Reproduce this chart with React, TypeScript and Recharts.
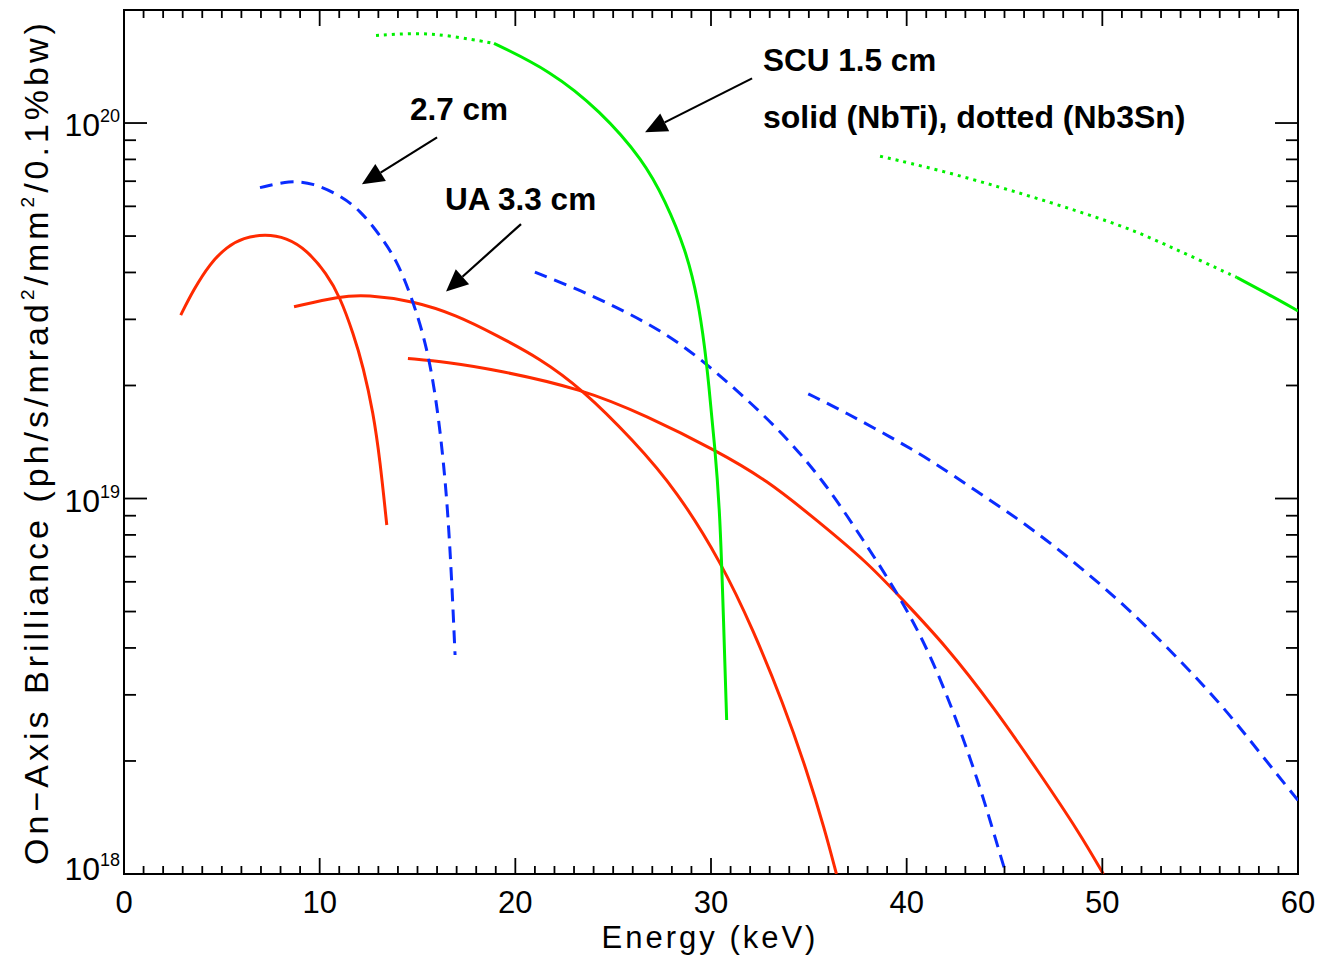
import { LineChart, Line, XAxis, YAxis, ReferenceArea, ReferenceLine } from "recharts";

const W = 1318;
const H = 956;
const PLOT = { left: 124, top: 10, right: 1298, bottom: 874 };
const FONT = "'Liberation Sans', Arial, sans-serif";

const RED = "#ff2a00";
const BLUE = "#0a2cff";
const GREEN = "#00f000";

// x ticks every 1 keV, labels every 10
const xTicks = [
  0, 1, 2, 3, 4, 5, 6, 7, 8, 9, 10, 11, 12, 13, 14, 15, 16, 17, 18, 19, 20,
  21, 22, 23, 24, 25, 26, 27, 28, 29, 30, 31, 32, 33, 34, 35, 36, 37, 38, 39, 40,
  41, 42, 43, 44, 45, 46, 47, 48, 49, 50, 51, 52, 53, 54, 55, 56, 57, 58, 59, 60,
];
const xLabels = [0, 10, 20, 30, 40, 50, 60];
const yTicks = [
  1e18, 2e18, 3e18, 4e18, 5e18, 6e18, 7e18, 8e18, 9e18,
  1e19, 2e19, 3e19, 4e19, 5e19, 6e19, 7e19, 8e19, 9e19,
  1e20,
];
const yLabels = [1e18, 1e19, 1e20];

// UA 3.3 cm (red, solid)
const ua1 = [
  { e: 2.9, b: 3.08e19 }, { e: 3.54, b: 3.59e19 }, { e: 4.4, b: 4.23e19 }, { e: 5.25, b: 4.68e19 },
  { e: 6.1, b: 4.95e19 }, { e: 7.21, b: 5.06e19 }, { e: 8.31, b: 4.95e19 }, { e: 9.34, b: 4.59e19 },
  { e: 10.36, b: 3.97e19 }, { e: 11.04, b: 3.44e19 }, { e: 11.72, b: 2.75e19 }, { e: 12.23, b: 2.24e19 },
  { e: 12.74, b: 1.69e19 }, { e: 13.08, b: 1.27e19 }, { e: 13.43, b: 8.5e18 },
];
const ua3 = [
  { e: 8.69, b: 3.24e19 }, { e: 11.04, b: 3.46e19 }, { e: 12.4, b: 3.49e19 }, { e: 14.79, b: 3.36e19 },
  { e: 17.0, b: 3.08e19 }, { e: 19.05, b: 2.72e19 }, { e: 21.26, b: 2.36e19 }, { e: 23.39, b: 1.96e19 },
  { e: 26.03, b: 1.43e19 }, { e: 28.25, b: 1.05e19 }, { e: 30.55, b: 6.72e18 }, { e: 32.16, b: 4.46e18 },
  { e: 33.69, b: 2.85e18 }, { e: 34.89, b: 1.89e18 }, { e: 35.82, b: 1.31e18 }, { e: 36.41, b: 1.0e18 },
];
const ua5 = [
  { e: 14.51, b: 2.36e19 }, { e: 16.49, b: 2.31e19 }, { e: 19.05, b: 2.2e19 }, { e: 23.39, b: 1.96e19 },
  { e: 26.71, b: 1.66e19 }, { e: 30.29, b: 1.34e19 }, { e: 32.85, b: 1.12e19 }, { e: 35.4, b: 8.76e18 },
  { e: 37.96, b: 6.78e18 }, { e: 39.66, b: 5.47e18 }, { e: 42.05, b: 4.03e18 }, { e: 44.43, b: 2.79e18 },
  { e: 46.81, b: 1.85e18 }, { e: 48.86, b: 1.28e18 }, { e: 50.05, b: 1.0e18 },
];

// 2.7 cm (blue, dashed)
const cm27a = [
  { e: 6.95, b: 6.73e19 }, { e: 8.48, b: 7.03e19 }, { e: 9.67, b: 6.92e19 }, { e: 11.04, b: 6.42e19 },
  { e: 12.06, b: 5.86e19 }, { e: 13.08, b: 5.03e19 }, { e: 13.94, b: 4.31e19 }, { e: 14.62, b: 3.52e19 },
  { e: 15.3, b: 2.75e19 }, { e: 15.77, b: 2.11e19 }, { e: 16.1, b: 1.6e19 }, { e: 16.34, b: 1.23e19 },
  { e: 16.55, b: 9.2e18 }, { e: 16.75, b: 6.06e18 }, { e: 16.92, b: 3.83e18 },
];
const cm27b = [
  { e: 21.0, b: 4.01e19 }, { e: 23.3, b: 3.59e19 }, { e: 25.86, b: 3.11e19 }, { e: 28.42, b: 2.61e19 },
  { e: 30.97, b: 2.02e19 }, { e: 33.53, b: 1.52e19 }, { e: 35.74, b: 1.12e19 }, { e: 37.78, b: 7.75e18 },
  { e: 39.66, b: 5.47e18 }, { e: 41.19, b: 3.87e18 }, { e: 42.56, b: 2.57e18 }, { e: 43.75, b: 1.71e18 },
  { e: 44.6, b: 1.21e18 }, { e: 45.08, b: 1.0e18 },
];
const cm27c = [
  { e: 34.97, b: 1.9e19 }, { e: 36.93, b: 1.69e19 }, { e: 39.15, b: 1.46e19 }, { e: 41.19, b: 1.27e19 },
  { e: 43.75, b: 1.03e19 }, { e: 46.3, b: 8.41e18 }, { e: 48.86, b: 6.58e18 }, { e: 51.41, b: 5.05e18 },
  { e: 53.97, b: 3.71e18 }, { e: 56.18, b: 2.79e18 }, { e: 58.06, b: 2.1e18 }, { e: 60.0, b: 1.57e18 },
];

// SCU 1.5 cm (green): solid NbTi, dotted Nb3Sn
const scu1Nb3Sn = [
  { e: 12.88, b: 1.71e20 }, { e: 14.96, b: 1.74e20 }, { e: 16.66, b: 1.71e20 }, { e: 18.91, b: 1.63e20 },
];
const scu1NbTi = [
  { e: 18.91, b: 1.63e20 }, { e: 21.77, b: 1.38e20 }, { e: 24.33, b: 1.08e20 }, { e: 26.54, b: 7.96e19 },
  { e: 27.65, b: 6.23e19 }, { e: 28.72, b: 4.59e19 }, { e: 29.34, b: 3.38e19 }, { e: 29.7, b: 2.48e19 },
  { e: 29.86, b: 2.07e19 }, { e: 30.2, b: 1.37e19 }, { e: 30.46, b: 9.14e18 }, { e: 30.63, b: 4.95e18 },
  { e: 30.8, b: 2.57e18 },
];
const scu3Nb3Sn = [
  { e: 38.64, b: 8.16e19 }, { e: 41.7, b: 7.49e19 }, { e: 44.77, b: 6.75e19 }, { e: 47.33, b: 6.15e19 },
  { e: 49.88, b: 5.57e19 }, { e: 51.58, b: 5.18e19 }, { e: 53.29, b: 4.73e19 }, { e: 54.99, b: 4.31e19 },
  { e: 56.87, b: 3.88e19 },
];
const scu3NbTi = [
  { e: 56.87, b: 3.88e19 }, { e: 58.57, b: 3.48e19 }, { e: 60.0, b: 3.16e19 },
];

// annotation arrows: start -> tip, in data units
const arrows = [
  [{ x: 32.1, y: 1.315e20 }, { x: 26.63, y: 9.45e19 }],
  [{ x: 16.0, y: 9.16e19 }, { x: 12.16, y: 6.87e19 }],
  [{ x: 20.29, y: 5.38e19 }, { x: 16.46, y: 3.56e19 }],
];

const XTick = (props: any) => {
  const { x, payload } = props;
  const v = payload.value;
  const major = xLabels.includes(v);
  const len = major ? 16 : 8;
  return (
    <g>
      <line x1={x} x2={x} y1={PLOT.bottom} y2={PLOT.bottom - len} stroke="#000" strokeWidth={1.8} />
      <line x1={x} x2={x} y1={PLOT.top} y2={PLOT.top + len} stroke="#000" strokeWidth={1.8} />
      {major && (
        <text x={x} y={PLOT.bottom + 39} textAnchor="middle" fontSize={31} fontFamily={FONT} fill="#000">
          {v}
        </text>
      )}
    </g>
  );
};

const YTick = (props: any) => {
  const { y, payload } = props;
  const v = payload.value;
  const major = yLabels.includes(v);
  const exp = Math.round(Math.log10(v));
  const len = major ? 23 : 12;
  return (
    <g>
      <line x1={PLOT.left} x2={PLOT.left + len} y1={y} y2={y} stroke="#000" strokeWidth={1.8} />
      <line x1={PLOT.right} x2={PLOT.right - len} y1={y} y2={y} stroke="#000" strokeWidth={1.8} />
      {major && (
        <text x={PLOT.left - 4} y={y + (exp === 18 ? 6 : 13)} textAnchor="end" fontSize={32} fontFamily={FONT} fill="#000">
          10
          <tspan dy={-14} fontSize={18}>{exp}</tspan>
        </text>
      )}
    </g>
  );
};

const Arrow = (p: any) => {
  const { x1, y1, x2, y2 } = p;
  const ang = Math.atan2(y2 - y1, x2 - x1);
  const L = 22;
  const hw = 10;
  const bx = x2 - L * Math.cos(ang);
  const by = y2 - L * Math.sin(ang);
  const nx = -Math.sin(ang) * hw;
  const ny = Math.cos(ang) * hw;
  return (
    <g>
      <line x1={x1} y1={y1} x2={bx} y2={by} stroke="#000" strokeWidth={2.2} />
      <polygon points={`${x2},${y2} ${bx + nx},${by + ny} ${bx - nx},${by - ny}`} fill="#000" />
    </g>
  );
};

const bold = { fontFamily: FONT, fontWeight: 700, fontSize: 31.5, fill: "#000" };

export default function App() {
  return (
    <div style={{ position: "absolute", left: 0, top: 0, width: W, height: H, background: "#fff" }}>
      <LineChart width={W} height={H} margin={{ top: PLOT.top, right: W - PLOT.right, left: 0, bottom: 0 }}>
        <XAxis
          type="number"
          dataKey="e"
          domain={[0, 60]}
          ticks={xTicks}
          interval={0}
          tick={(p: any) => <XTick {...p} />}
          tickLine={false}
          axisLine={false}
          height={H - PLOT.bottom}
          allowDataOverflow
        />
        <YAxis
          type="number"
          scale="log"
          domain={[1e18, 2e20]}
          ticks={yTicks}
          interval={0}
          tick={(p: any) => <YTick {...p} />}
          tickLine={false}
          axisLine={false}
          width={PLOT.left}
          allowDataOverflow
        />
        <Line data={ua1} dataKey="b" type="basis" stroke={RED} strokeWidth={3} dot={false} isAnimationActive={false} />
        <Line data={ua3} dataKey="b" type="basis" stroke={RED} strokeWidth={3} dot={false} isAnimationActive={false} />
        <Line data={ua5} dataKey="b" type="basis" stroke={RED} strokeWidth={3} dot={false} isAnimationActive={false} />
        <Line data={cm27a} dataKey="b" type="basis" stroke={BLUE} strokeWidth={3} strokeDasharray="13 8" dot={false} isAnimationActive={false} />
        <Line data={cm27b} dataKey="b" type="basis" stroke={BLUE} strokeWidth={3} strokeDasharray="13 8" dot={false} isAnimationActive={false} />
        <Line data={cm27c} dataKey="b" type="basis" stroke={BLUE} strokeWidth={3} strokeDasharray="13 8" dot={false} isAnimationActive={false} />
        <Line data={scu1Nb3Sn} dataKey="b" type="basis" stroke={GREEN} strokeWidth={3} strokeDasharray="3 5" dot={false} isAnimationActive={false} />
        <Line data={scu1NbTi} dataKey="b" type="basis" stroke={GREEN} strokeWidth={3} dot={false} isAnimationActive={false} />
        <Line data={scu3Nb3Sn} dataKey="b" type="basis" stroke={GREEN} strokeWidth={3} strokeDasharray="3 5" dot={false} isAnimationActive={false} />
        <Line data={scu3NbTi} dataKey="b" type="basis" stroke={GREEN} strokeWidth={3} dot={false} isAnimationActive={false} />
        {arrows.map((seg, i) => (
          <ReferenceLine key={i} segment={seg} shape={(p: any) => <Arrow {...p} />} ifOverflow="visible" />
        ))}
        <ReferenceArea x1={0} x2={60} y1={1e18} y2={2e20} fill="none" stroke="#000" strokeWidth={2} ifOverflow="visible" />
      </LineChart>
      <svg width={W} height={H} style={{ position: "absolute", left: 0, top: 0, pointerEvents: "none" }}>
        <text x={710} y={948} textAnchor="middle" fontSize={31} letterSpacing={3} fontFamily={FONT} fill="#000">
          Energy (keV)
        </text>
        <text
          transform="translate(48,442) rotate(-90)"
          textAnchor="middle"
          fontSize={34}
          letterSpacing={4}
          fontFamily={FONT}
          fill="#000"
        >
          On−Axis Brilliance (ph/s/mrad
          <tspan dy={-14} fontSize={19}>2</tspan>
          <tspan dy={14}>/mm</tspan>
          <tspan dy={-14} fontSize={19}>2</tspan>
          <tspan dy={14}>/0.1%bw)</tspan>
        </text>
        <text x={763} y={71} {...bold}>SCU 1.5 cm</text>
        <text x={763} y={128} {...bold} fontSize={32}>solid (NbTi), dotted (Nb3Sn)</text>
        <text x={410} y={120} {...bold}>2.7 cm</text>
        <text x={445} y={210} {...bold}>UA 3.3 cm</text>
      </svg>
    </div>
  );
}
